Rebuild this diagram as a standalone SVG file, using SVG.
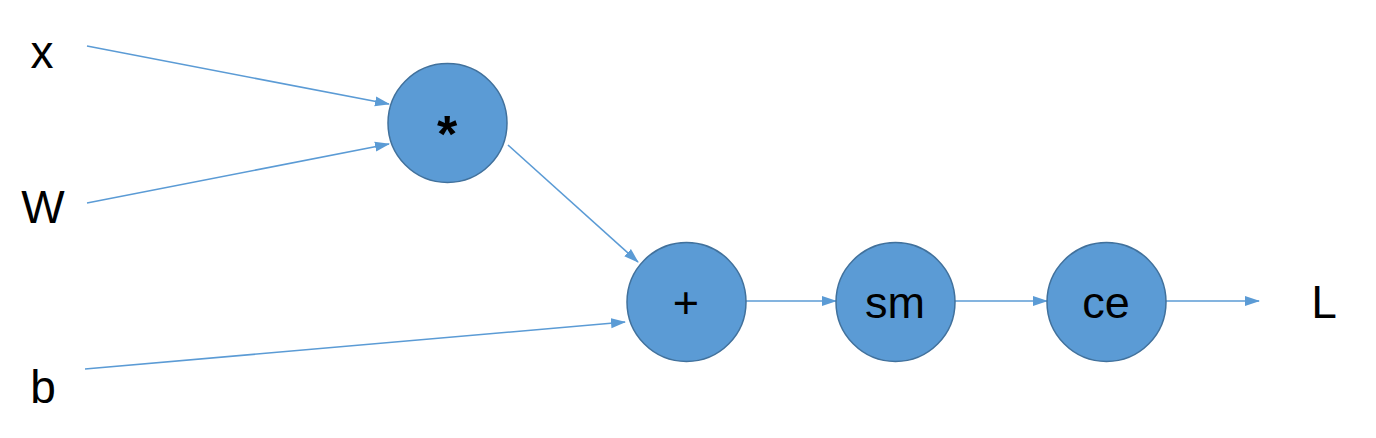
<svg xmlns="http://www.w3.org/2000/svg" width="1376" height="438" viewBox="0 0 1376 438">
<style>
.node{fill:#5B9BD5;stroke:#41719C;stroke-width:1.5}
.lbl{font-family:"Liberation Sans",Arial,sans-serif;font-size:46px;fill:#000;text-anchor:middle}
.op{font-family:"Liberation Sans",Arial,sans-serif;font-size:45px;fill:#000;text-anchor:middle}
.edge{stroke:#5B9BD5;stroke-width:1.6;fill:none;marker-end:url(#ah)}
</style>
<defs>
<marker id="ah" markerUnits="userSpaceOnUse" markerWidth="15" markerHeight="12" refX="14" refY="5" orient="auto" viewBox="0 0 15 10">
<path d="M0,0 L15,5 L0,10 Z" fill="#5B9BD5"/>
</marker>
</defs>
<rect width="1376" height="438" fill="#fff"/>
<g id="connectors">
<line class="edge" x1="87" y1="46" x2="389" y2="104"/>
<line class="edge" x1="87" y1="203" x2="389" y2="144"/>
<line class="edge" x1="508" y1="145" x2="638" y2="262"/>
<line class="edge" x1="85" y1="369" x2="625" y2="322"/>
<line class="edge" x1="746" y1="301" x2="836" y2="301"/>
<line class="edge" x1="955" y1="301" x2="1047" y2="301"/>
<line class="edge" x1="1166" y1="301" x2="1259" y2="301"/>
</g>
<g id="x"><text class="lbl" x="42" y="68">x</text></g>
<g id="W"><text class="lbl" x="43" y="223">W</text></g>
<g id="b"><text class="lbl" x="43" y="403">b</text></g>
<g id="L"><text class="lbl" x="1324" y="318">L</text></g>
<g id="mul"><circle class="node" cx="447.5" cy="123" r="59.5"/><text class="op" x="447" y="152" style="font-size:52px;font-weight:bold">*</text></g>
<g id="add"><circle class="node" cx="686.5" cy="302" r="59.5"/><text class="op" x="686" y="318">+</text></g>
<g id="sm"><circle class="node" cx="895.5" cy="302" r="59.5"/><text class="op" x="895" y="318">sm</text></g>
<g id="ce"><circle class="node" cx="1106.5" cy="302" r="59.5"/><text class="op" x="1106" y="318">ce</text></g>
</svg>
